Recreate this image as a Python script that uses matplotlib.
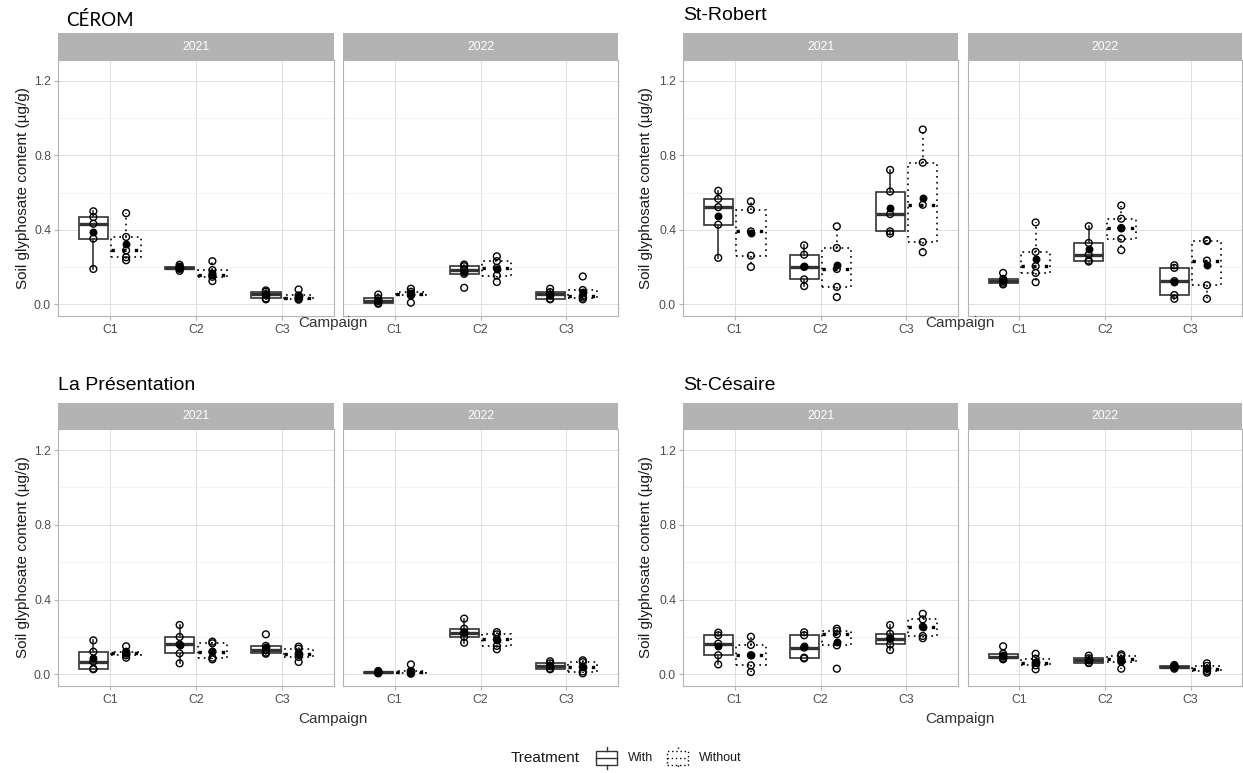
import numpy as np
import matplotlib.pyplot as plt
from matplotlib.patches import Rectangle
from matplotlib.lines import Line2D

plt.rcParams['font.family'] = ['Liberation Sans', 'DejaVu Sans']

W, H = 1243, 773

campaigns = ['C1', 'C2', 'C3']
years = ['2021', '2022']
sites = ['CÉROM', 'St-Robert', 'La Présentation', 'St-Césaire']

# five samples per campaign (C1, C2, C3)
cerom_2021_with = [[0.19, 0.353, 0.433, 0.469, 0.50],
                   [0.18, 0.19, 0.196, 0.203, 0.213],
                   [0.027, 0.032, 0.055, 0.068, 0.075]]
cerom_2021_without = [[0.237, 0.253, 0.29, 0.362, 0.49],
                      [0.125, 0.148, 0.157, 0.184, 0.232],
                      [0.025, 0.03, 0.036, 0.048, 0.08]]
cerom_2022_with = [[0.003, 0.008, 0.018, 0.033, 0.053],
                   [0.089, 0.164, 0.187, 0.205, 0.214],
                   [0.027, 0.03, 0.053, 0.066, 0.084]]
cerom_2022_without = [[0.009, 0.048, 0.058, 0.068, 0.084],
                      [0.12, 0.155, 0.196, 0.232, 0.258],
                      [0.027, 0.036, 0.045, 0.077, 0.15]]

robert_2021_with = [[0.25, 0.428, 0.522, 0.567, 0.61],
                    [0.098, 0.134, 0.201, 0.267, 0.317],
                    [0.38, 0.392, 0.485, 0.606, 0.722]]
robert_2021_without = [[0.201, 0.262, 0.392, 0.508, 0.553],
                       [0.039, 0.094, 0.19, 0.303, 0.419],
                       [0.28, 0.335, 0.535, 0.761, 0.939]]
robert_2022_with = [[0.107, 0.116, 0.125, 0.137, 0.169],
                    [0.23, 0.235, 0.267, 0.33, 0.42],
                    [0.03, 0.05, 0.125, 0.196, 0.21]]
robert_2022_without = [[0.119, 0.169, 0.205, 0.282, 0.44],
                       [0.291, 0.353, 0.41, 0.46, 0.531],
                       [0.03, 0.103, 0.235, 0.34, 0.345]]

presentation_2021_with = [[0.027, 0.03, 0.068, 0.121, 0.182],
                          [0.059, 0.112, 0.16, 0.2, 0.264],
                          [0.11, 0.116, 0.13, 0.152, 0.214]]
presentation_2021_without = [[0.089, 0.102, 0.112, 0.121, 0.15],
                             [0.08, 0.089, 0.12, 0.166, 0.175],
                             [0.066, 0.093, 0.11, 0.137, 0.148]]
presentation_2022_with = [[0.005, 0.008, 0.01, 0.013, 0.018],
                          [0.169, 0.201, 0.223, 0.244, 0.298],
                          [0.027, 0.03, 0.045, 0.059, 0.07]]
presentation_2022_without = [[0.003, 0.008, 0.012, 0.018, 0.053],
                             [0.134, 0.152, 0.187, 0.214, 0.226],
                             [0.005, 0.015, 0.04, 0.065, 0.075]]

cesaire_2021_with = [[0.053, 0.102, 0.164, 0.209, 0.223],
                     [0.085, 0.089, 0.143, 0.209, 0.225],
                     [0.13, 0.16, 0.19, 0.217, 0.264]]
cesaire_2021_without = [[0.012, 0.048, 0.102, 0.157, 0.201],
                        [0.03, 0.155, 0.214, 0.232, 0.244],
                        [0.193, 0.205, 0.255, 0.294, 0.324]]
cesaire_2022_with = [[0.08, 0.086, 0.095, 0.111, 0.15],
                     [0.06, 0.062, 0.075, 0.086, 0.1],
                     [0.03, 0.036, 0.04, 0.044, 0.05]]
cesaire_2022_without = [[0.027, 0.048, 0.062, 0.084, 0.11],
                        [0.03, 0.068, 0.08, 0.098, 0.107],
                        [0.009, 0.018, 0.03, 0.045, 0.059]]

site_data = {
    'CÉROM': [(cerom_2021_with, cerom_2021_without), (cerom_2022_with, cerom_2022_without)],
    'St-Robert': [(robert_2021_with, robert_2021_without), (robert_2022_with, robert_2022_without)],
    'La Présentation': [(presentation_2021_with, presentation_2021_without),
                        (presentation_2022_with, presentation_2022_without)],
    'St-Césaire': [(cesaire_2021_with, cesaire_2021_without), (cesaire_2022_with, cesaire_2022_without)],
}

# layout in pixels
cols = {'left': [(58, 334), (343, 618)], 'right': [(683, 958), (968, 1242)]}
rows = {'top': (33, 60, 316), 'bottom': (403, 429, 686)}
site_pos = {'CÉROM': ('top', 'left'), 'St-Robert': ('top', 'right'),
            'La Présentation': ('bottom', 'left'), 'St-Césaire': ('bottom', 'right')}

GRID_MAJ = '#DEDEDE'
GRID_MIN = '#EFEFEF'
BORDER = '#B3B3B3'
TXT = '#4D4D4D'
DOT = (0, (1, 2.5))

fig = plt.figure(figsize=(W / 100, H / 100), dpi=100)


def fx(x):
    return x / W


def fy(y):
    return 1 - y / H


def draw_group(ax, pos, groups, dotted):
    ls = DOT if dotted else '-'
    col = 'black' if dotted else '#333333'
    lw = 1.2
    bp = ax.boxplot(groups, positions=pos, widths=0.34, showfliers=False, showcaps=False,
                    patch_artist=True, manage_ticks=False,
                    boxprops=dict(facecolor='white', edgecolor=col, linewidth=lw),
                    whiskerprops=dict(color=col, linewidth=lw),
                    medianprops=dict(color=col, linewidth=lw * 2),
                    zorder=2)
    if dotted:
        for a in bp['boxes'] + bp['whiskers'] + bp['medians']:
            a.set_linestyle(DOT)
    for p, v in zip(pos, groups):
        ax.scatter([p] * len(v), v, s=24, facecolors='none', edgecolors='black',
                   linewidths=1.0, zorder=4)
        ax.scatter([p], [np.mean(v)], s=22, color='black', zorder=5)


for site in sites:
    row, col = site_pos[site]
    st, top, bot = rows[row]
    for j, (l, r) in enumerate(cols[col]):
        ax = fig.add_axes([fx(l), fy(bot), (r - l) / W, (bot - top) / H])
        with_vals, without_vals = site_data[site][j]
        x = np.arange(1, len(campaigns) + 1)
        draw_group(ax, x - 0.19, with_vals, False)
        draw_group(ax, x + 0.19, without_vals, True)
        ax.set_xlim(0.4, 3.6)
        ax.set_ylim(-0.0625, 1.3125)
        ax.set_xticks(x)
        ax.set_xticklabels(campaigns)
        ax.set_yticks([0, 0.4, 0.8, 1.2])
        ax.set_yticks([0.2, 0.6, 1.0], minor=True)
        if j == 0:
            ax.set_yticklabels(['0.0', '0.4', '0.8', '1.2'])
            ax.tick_params(axis='y', length=3, color=BORDER, labelsize=8.8, labelcolor=TXT, pad=2)
        else:
            ax.set_yticklabels([])
            ax.tick_params(axis='y', length=0)
        ax.tick_params(axis='y', which='minor', length=0)
        ax.tick_params(axis='x', length=3, color=BORDER, labelsize=8.8, labelcolor=TXT, pad=3)
        ax.grid(which='major', color=GRID_MAJ, linewidth=0.7)
        ax.grid(which='minor', axis='y', color=GRID_MIN, linewidth=0.5)
        ax.set_axisbelow(True)
        for s in ax.spines.values():
            s.set_color(BORDER)
            s.set_linewidth(0.8)
        # facet strip
        fig.add_artist(Rectangle((fx(l), fy(top)), (r - l) / W, (top - st) / H,
                                 transform=fig.transFigure, facecolor='#B3B3B3',
                                 edgecolor='none'))
        fig.text(fx((l + r) / 2), fy((st + top) / 2), years[j], color='white',
                 fontsize=8.8, ha='center', va='center')

    cx = 333 if col == 'left' else 960
    # y label, x label
    fig.text(fx(23 if col == 'left' else 646), fy((top + bot) / 2),
             'Soil glyphosate content (µg/g)', rotation=90, fontsize=11,
             color='#1A1A1A', ha='center', va='center')
    fig.text(fx(cx), fy(323 if row == 'top' else 719), 'Campaign', fontsize=11,
             color='#333333', ha='center', va='center')

titles = {'CÉROM': (66, 26), 'St-Robert': (683, 20),
          'La Présentation': (58, 390), 'St-Césaire': (683, 390)}
for site, (tx, ty) in titles.items():
    fam = ['Lato', 'DejaVu Sans'] if site == 'CÉROM' else ['Liberation Sans', 'DejaVu Sans']
    fig.text(fx(tx), fy(ty), site, fontsize=14 if site != 'CÉROM' else 13.5,
             family=fam, ha='left', va='baseline', color='black')

# legend
fig.text(fx(511), fy(758), 'Treatment', fontsize=11, color='#1A1A1A', ha='left', va='center')
for x0, lab, dotted in [(596, 'With', False), (667, 'Without', True)]:
    ls = (0, (1, 2)) if dotted else '-'
    c = 'black' if dotted else '#333333'
    fig.add_artist(Rectangle((fx(x0), fy(765)), 21 / W, 14 / H, transform=fig.transFigure,
                             facecolor='white', edgecolor=c, linewidth=1.0, linestyle=ls))
    xm = fx(x0 + 10.5)
    fig.add_artist(Line2D([fx(x0), fx(x0 + 21)], [fy(758), fy(758)], transform=fig.transFigure,
                          color=c, linewidth=1.0, linestyle=ls))
    fig.add_artist(Line2D([xm, xm], [fy(747), fy(751)], transform=fig.transFigure,
                          color=c, linewidth=1.0, linestyle=ls))
    fig.add_artist(Line2D([xm, xm], [fy(765), fy(769)], transform=fig.transFigure,
                          color=c, linewidth=1.0, linestyle=ls))
    fig.text(fx(x0 + 32), fy(758), lab, fontsize=9, color='#1A1A1A', ha='left', va='center')

fig.savefig('out.png', dpi=100, facecolor='white')
